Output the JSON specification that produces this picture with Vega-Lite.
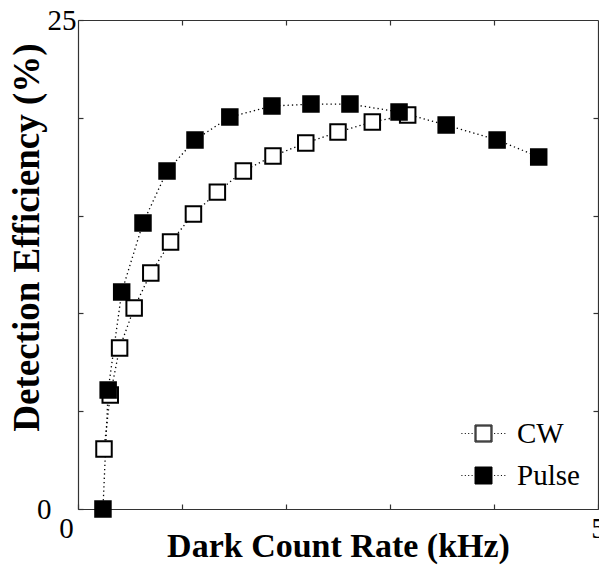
{
  "$schema": "https://vega.github.io/schema/vega-lite/v6.json",
  "width": 520,
  "height": 489,
  "autosize": {"type": "none"},
  "padding": {"left": 78, "top": 20, "right": 1, "bottom": 58},
  "background": "white",
  "config": {
    "font": "Liberation Serif",
    "view": {"stroke": null},
    "axis": {
      "grid": false,
      "domainColor": "#333",
      "domainWidth": 1.2,
      "tickColor": "#333",
      "tickSize": -5,
      "tickWidth": 1.2,
      "labelFont": "Liberation Serif",
      "labelFontSize": 29,
      "labelColor": "black",
      "labelFlush": false,
      "labelOverlap": false,
      "labelBound": false,
      "titleFont": "Liberation Serif",
      "titleFontSize": 34,
      "titleFontWeight": "bold",
      "titleColor": "black"
    },
    "legend": {"labelFont": "Liberation Serif"}
  },
  "data": {
    "values": [
      {"series": "CW", "rate": 0.25, "eff": 3.07},
      {"series": "CW", "rate": 0.31, "eff": 5.83},
      {"series": "CW", "rate": 0.40, "eff": 8.23},
      {"series": "CW", "rate": 0.54, "eff": 10.28},
      {"series": "CW", "rate": 0.70, "eff": 12.07},
      {"series": "CW", "rate": 0.89, "eff": 13.65},
      {"series": "CW", "rate": 1.11, "eff": 15.08},
      {"series": "CW", "rate": 1.34, "eff": 16.2},
      {"series": "CW", "rate": 1.59, "eff": 17.28},
      {"series": "CW", "rate": 1.875, "eff": 18.05},
      {"series": "CW", "rate": 2.19, "eff": 18.71},
      {"series": "CW", "rate": 2.5, "eff": 19.27},
      {"series": "CW", "rate": 2.83, "eff": 19.79},
      {"series": "CW", "rate": 3.17, "eff": 20.14},
      {"series": "Pulse", "rate": 0.24, "eff": 0.0},
      {"series": "Pulse", "rate": 0.29, "eff": 6.08},
      {"series": "Pulse", "rate": 0.42, "eff": 11.09},
      {"series": "Pulse", "rate": 0.625, "eff": 14.62},
      {"series": "Pulse", "rate": 0.856, "eff": 17.28},
      {"series": "Pulse", "rate": 1.125, "eff": 18.87},
      {"series": "Pulse", "rate": 1.46, "eff": 20.04},
      {"series": "Pulse", "rate": 1.865, "eff": 20.6},
      {"series": "Pulse", "rate": 2.24, "eff": 20.7},
      {"series": "Pulse", "rate": 2.615, "eff": 20.7},
      {"series": "Pulse", "rate": 3.087, "eff": 20.3},
      {"series": "Pulse", "rate": 3.54, "eff": 19.63},
      {"series": "Pulse", "rate": 4.03, "eff": 18.87},
      {"series": "Pulse", "rate": 4.43, "eff": 18.0}
    ]
  },
  "layer": [
    {
      "mark": {"type": "line", "stroke": "black", "strokeWidth": 1.3, "strokeDash": [1.3, 3]},
      "encoding": {
        "x": {
          "field": "rate", "type": "quantitative",
          "scale": {"domain": [0, 5], "nice": false, "zero": false},
          "axis": {
            "orient": "bottom",
            "values": [0, 1, 2, 3, 4, 5],
            "labelExpr": "datum.value == 0 || datum.value == 5 ? datum.label : ''",
            "labelPadding": 10,
            "labelOffset": {"condition": {"test": "datum.value == 0", "value": -12}, "value": 0},
            "title": "Dark Count Rate (kHz)",
            "titlePadding": -14
          }
        },
        "y": {
          "field": "eff", "type": "quantitative",
          "scale": {"domain": [0, 25], "nice": false},
          "axis": {
            "orient": "left",
            "values": [0, 5, 10, 15, 20, 25],
            "labelExpr": "datum.value == 0 || datum.value == 25 ? datum.label : ''",
            "labelPadding": {"condition": {"test": "datum.value == 0", "value": 32}, "value": 7},
            "title": "Detection Efficiency (%)",
            "titleFontSize": 37,
            "titleY": 217,
            "titlePadding": -10
          }
        },
        "detail": {"field": "series"}
      }
    },
    {
      "mark": {"type": "point", "shape": "square", "filled": true, "stroke": "black", "strokeWidth": 2, "size": 240, "opacity": 1},
      "encoding": {
        "x": {
          "field": "rate", "type": "quantitative",
          "scale": {"domain": [0, 5], "nice": false, "zero": false},
          "axis": {"orient": "top", "values": [1, 2, 3, 4], "labels": false, "title": null}
        },
        "y": {
          "field": "eff", "type": "quantitative",
          "scale": {"domain": [0, 25], "nice": false},
          "axis": {"orient": "right", "values": [5, 10, 15, 20], "labels": false, "title": null}
        },
        "fill": {
          "field": "series", "type": "nominal",
          "scale": {"domain": ["CW", "Pulse"], "range": ["white", "black"]},
          "legend": {
            "orient": "bottom-right",
            "offset": 18,
            "title": null,
            "labelFont": "Liberation Serif",
            "labelFontSize": 29,
            "labelColor": "black",
            "labelOffset": 19,
            "rowPadding": 12,
            "symbolSize": 289,
            "symbolType": "M-1,-1H1V1H-1Z M-0.88,-0.88H0.88V0.88H-0.88Z M-2.6,0h0.12 M-2.2,0h0.12 M-1.8,0h0.12 M-1.4,0h0.12 M1.25,0h0.12 M1.65,0h0.12 M2.05,0h0.12 M2.45,0h0.12",
            "symbolStrokeColor": "black",
            "symbolStrokeWidth": 1,
            "symbolOpacity": 1
          }
        }
      }
    }
  ],
  "resolve": {"axis": {"x": "independent", "y": "independent"}}
}
